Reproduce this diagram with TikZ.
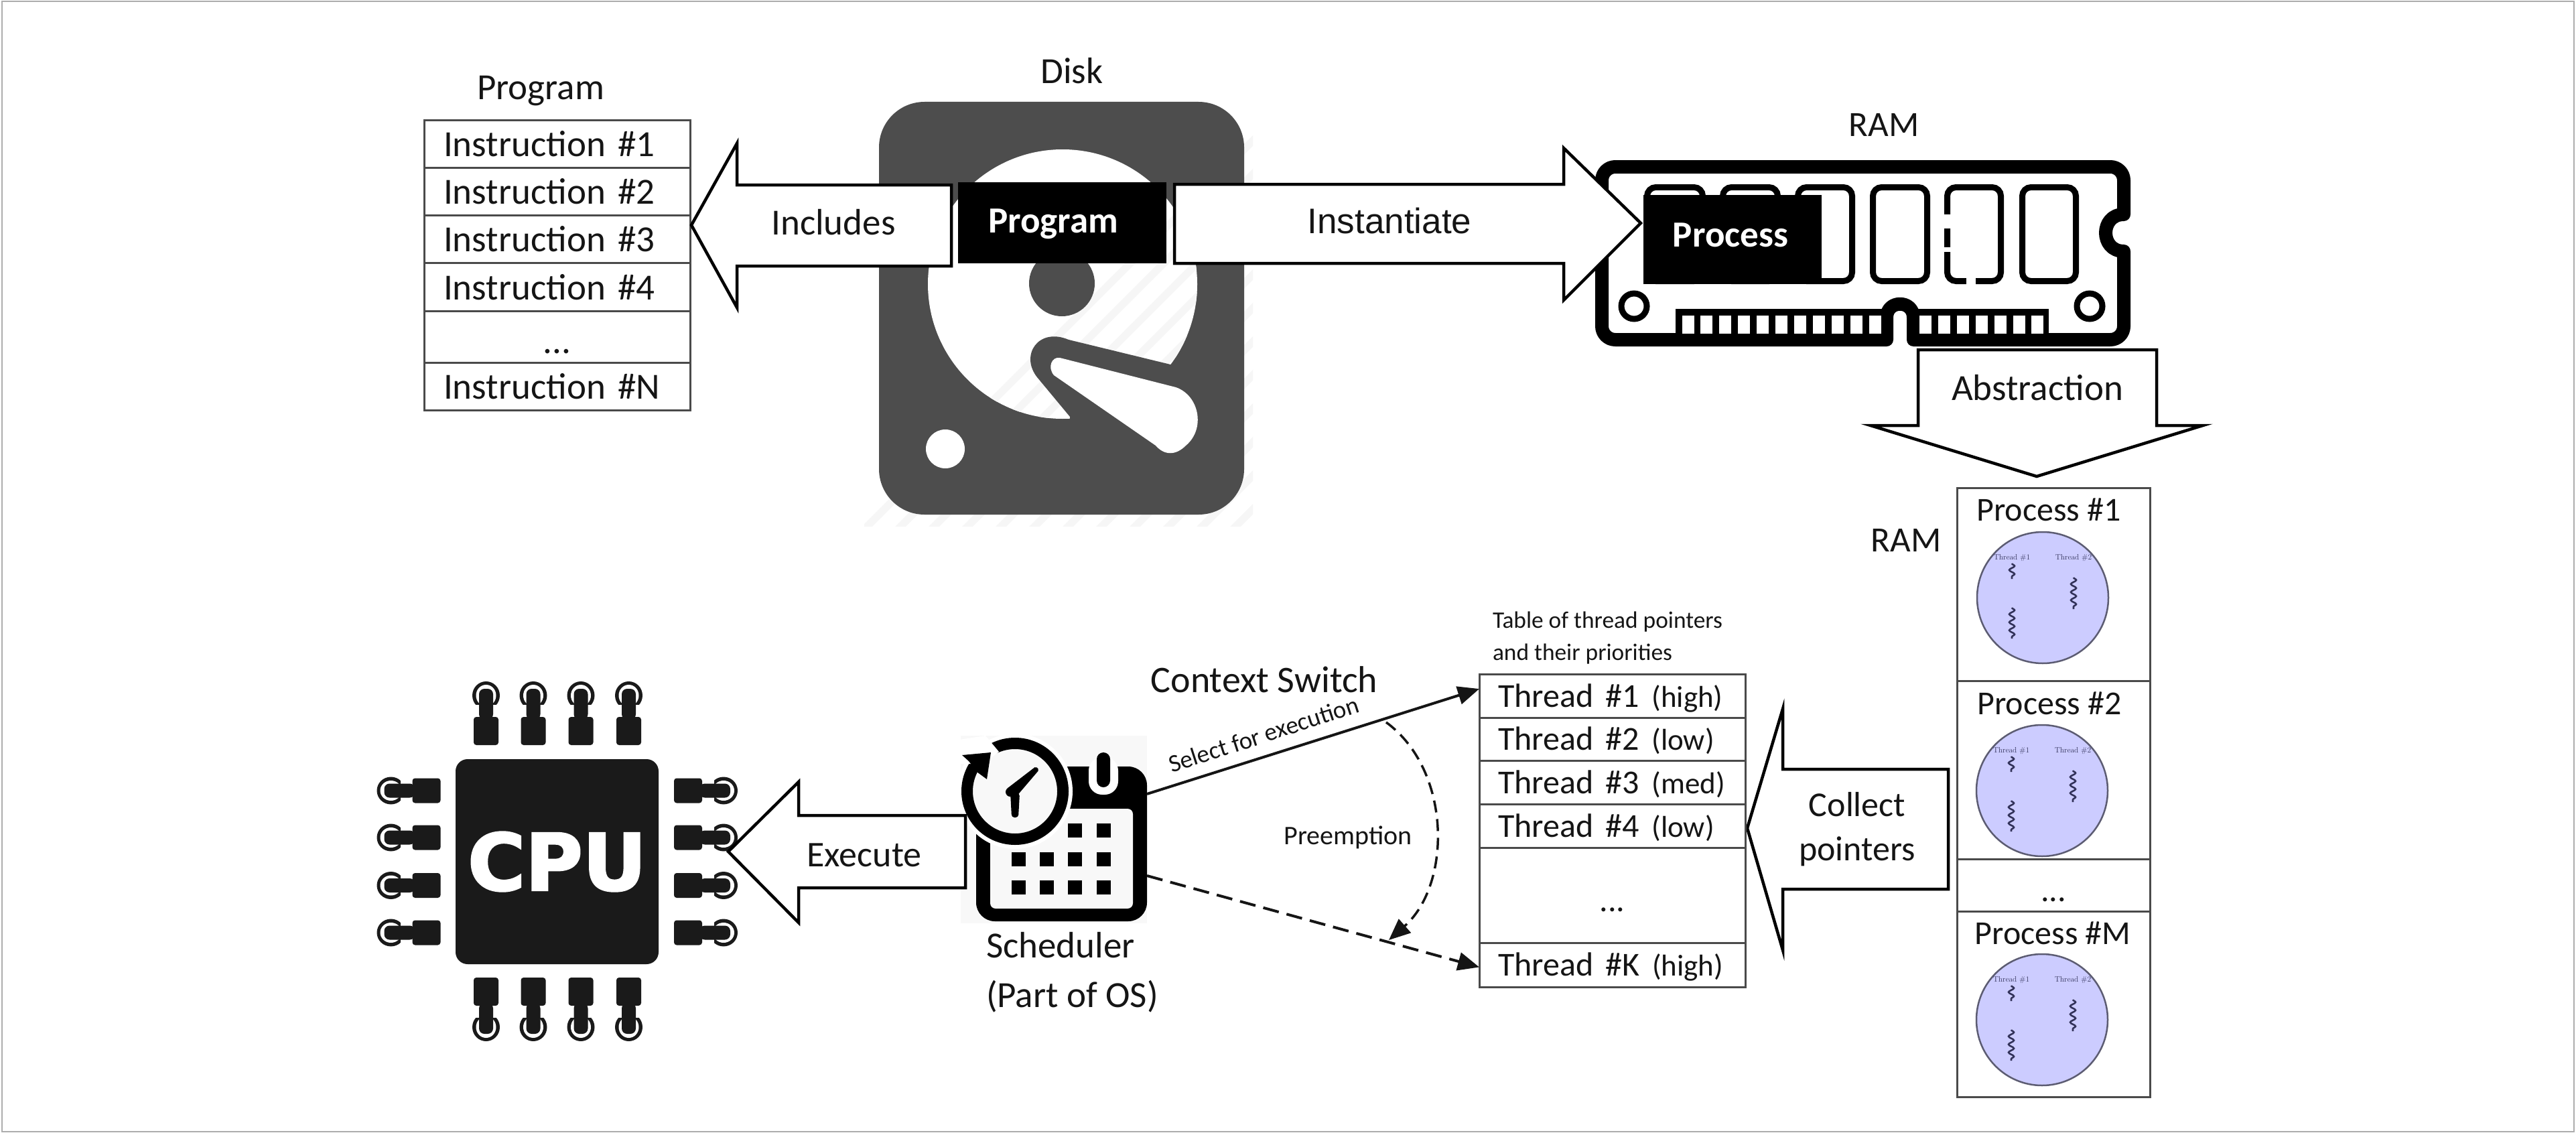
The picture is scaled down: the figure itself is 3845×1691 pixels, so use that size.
\documentclass[tikz,border=0pt]{standalone}
\usepackage{fontspec}
\usetikzlibrary{arrows.meta,decorations.pathmorphing}
\newfontfamily\calib{Carlito}
\newfontfamily\arialish{Liberation Sans}
\newfontfamily\dvbold{DejaVu Sans}[BoldFeatures={FakeBold=2.5}]
\newcommand\tsz[1]{\fontsize{#1}{#1}\selectfont}
\newcommand\instrut{\rule[-12pt]{0pt}{62pt}}
\newcommand\thrstrut{\rule[-12pt]{0pt}{57pt}}
\newcommand\dotstrut{\rule[-10pt]{0pt}{69pt}}
\newcommand\thr[2]{{\tsz{50}Thread \##1} {\tsz{45}(#2)}}
\newcommand\diskstripes{\foreach \k in {0,...,26} {\draw[hatchc,line width=11pt] ({1290+50*\k},790) -- ({1290+50*\k+660},130);}}
\definecolor{txtc}{HTML}{151515}
\definecolor{diskc}{HTML}{4D4D4D}
\definecolor{cpuc}{HTML}{1A1A1A}
\definecolor{linec}{HTML}{4A4A4A}
\definecolor{discf}{HTML}{CCCCFF}
\definecolor{discd}{HTML}{5C5C72}
\definecolor{squigc}{HTML}{33335A}
\definecolor{hatchc}{HTML}{F6F6F6}
\definecolor{checkc}{HTML}{F8F8F8}
\tikzset{
  lab/.style={font={\calib\tsz{#1}},text=txtc,inner sep=0pt,outer sep=0pt,anchor=base},
  labl/.style={font={\calib\tsz{#1}},text=txtc,inner sep=0pt,outer sep=0pt,anchor=base west},
  cell/.style={draw=linec,line width=3pt,inner ysep=0pt,outer sep=0pt,anchor=north west,font={\calib\tsz{55}},text=txtc},
  instr/.style={cell,inner xsep=29pt,text width=339pt,align=left,minimum height=#1},
  instrdots/.style={cell,inner xsep=29pt,text width=339pt,align=center,minimum height=#1},
  thrcell/.style={cell,inner xsep=28pt,text width=341pt,align=left,minimum height=#1},
  thrdots/.style={cell,inner xsep=28pt,text width=341pt,align=center,minimum height=#1,font={\calib\tsz{50}}},
  proccell/.style={cell,inner xsep=0pt,text width=288pt,align=center,minimum height=#1,font={\calib\tsz{50}}},
  blockarrow/.style={draw=black,fill=white,line width=4.5pt,line join=miter},
  blackbox/.style={fill=black,inner sep=0pt,outer sep=0pt},
  chip/.style={draw=black,line width=9pt,rounded corners=13pt},
  disc/.style={circle,draw=discd,fill=discf,line width=2.5pt,inner sep=0pt,outer sep=0pt,minimum size=196pt},
  tlab/.style={font=\tsz{11.5},text=squigc,inner sep=0pt},
  squig/.style={draw=squigc,line width=2.6pt,decorate,decoration={snake,segment length=12pt,amplitude=4pt}},
  conn/.style={draw=txtc,line width=4pt,-{Triangle[length=32pt,width=27pt]}},
  pics/procdisc/.style={code={
    \node[disc] (-d) at (0,0) {};
    \node[tlab] (-a) at (-46,-59) {Thread \#1};
    \node[tlab] (-b) at (46,-59) {Thread \#2};
    \draw[squig] (-46,-51) -- (-46,-28);
    \draw[squig] (46,-30) -- (46,17);
    \draw[squig] (-46,15) -- (-46,61);
  }},
  pics/cpupin/.style={code={
    \fill[cpuc] (0,-74) ellipse[x radius=20.5,y radius=21];
    \fill[white] (0,-74) ellipse[x radius=15,y radius=16];
    \fill[white] (-22,-60) rectangle (22,-50);
    \fill[cpuc,rounded corners=8pt] (-10.5,-84) rectangle (10.5,-38);
    \fill[cpuc,rounded corners=4pt] (-18.5,0) rectangle (18.5,-42);
  }}
}
\begin{document}
\begin{tikzpicture}[x=1pt,y=-1pt]
\useasboundingbox (0,0) rectangle (3845,1691);
\fill[white] (0,0) rectangle (3845,1691);
\draw[draw=black!32,line width=2.5pt] (3,2) rectangle (3842,1689);

% ---------- Program table
\node[lab=55] (programlabel) at (807,149) {Program};
\node[instr=71pt] (i1) at (633,179) {\instrut Instruction \#1};
\node[instr=71pt] (i2) at (633,250) {\instrut Instruction \#2};
\node[instr=71pt] (i3) at (633,321) {\instrut Instruction \#3};
\node[instr=72pt] (i4) at (633,392) {\instrut Instruction \#4};
\node[instrdots=77pt] (i5) at (633,464) {\dotstrut ...};
\node[instr=71pt] (i6) at (633,541) {\instrut Instruction \#N};

% ---------- Disk
\node[lab=55] (disklabel) at (1600,125) {Disk};
\begin{scope}
  \clip (1290,140) rectangle (1870,785);
  \diskstripes
\end{scope}
\fill[diskc,rounded corners=68pt] (1312,152) rectangle (1857,768);
\fill[white] (1586,424) circle[radius=201];
\begin{scope}
  \clip (1586,424) circle[radius=201];
  \diskstripes
\end{scope}
\fill[diskc] (1585,423) circle[radius=49];
\fill[diskc] (1597,642) -- (1597,622) -- (1548,563)
  .. controls (1522,530) and (1550,488) .. (1595,507)
  -- (1747,544) -- (1830,560) -- (1830,642) -- cycle;
\fill[white] (1582,534) -- (1755,578) .. controls (1790,590) and (1800,640) .. (1770,665)
  .. controls (1755,680) and (1738,680) .. (1725,665) -- (1573,560)
  .. controls (1563,548) and (1570,532) .. (1582,534) -- cycle;
\fill[white] (1411,670) circle[radius=29];

% ---------- Includes arrow and program box
\draw[blockarrow] (1032,336) -- (1100,214) -- (1100,276) -- (1420,276) -- (1420,397) -- (1100,397) -- (1100,459) -- cycle;
\node[lab=55] (includes) at (1244,350) {Includes};
\node[blackbox,minimum width=311pt,minimum height=121pt] (progbox) at (1585.5,332.5) {};
\node[lab=55,text=white,font={\calib\bfseries\tsz{55}}] (progtext) at (1572,347) {Program};

% ---------- RAM module
\node[lab=53] (ramlabel) at (2812,204) {RAM};
\draw[black,line width=20pt,line join=round] (3170,320) [rounded corners=20pt] -- (3170,249) -- (2391,249) -- (2391,507) [sharp corners] -- (2816,507) -- (2816,474)
  .. controls (2816,447) and (2856,447) .. (2856,474) -- (2856,507) [rounded corners=20pt] -- (3170,507) [sharp corners] -- (3170,375)
  .. controls (3134,375) and (3134,320) .. (3170,320) -- cycle;
\draw[chip] (2458.5,279.5) rectangle (2541.5,419.5);
\draw[chip] (2571.5,279.5) rectangle (2653.5,419.5);
\draw[chip] (2683.5,279.5) rectangle (2764.5,419.5);
\draw[chip] (2795.5,279.5) rectangle (2876.5,419.5);
\draw[chip] (2906.5,279.5) rectangle (2986.5,419.5);
\draw[chip] (3018.5,279.5) rectangle (3098.5,419.5);
\fill[white] (2899,320) rectangle (2913,341);
\fill[white] (2899,369) rectangle (2913,376);
\fill[white] (2935,412) rectangle (2949,428);
\draw[black,line width=9pt] (2439,457) circle[radius=19];
\draw[black,line width=9pt] (3119,457) circle[radius=19];
\fill[black] (2501,461) rectangle (2812,500);
\fill[black] (2860,461) rectangle (3058,500);
\foreach \k in {0,...,10} {\fill[white] ({2510.5+27.9*\k},471) rectangle ({2528.5+27.9*\k},497.5);}
\foreach \k in {0,...,6} {\fill[white] ({2865+27.9*\k},471) rectangle ({2883+27.9*\k},497.5);}

% ---------- Instantiate arrow and process box
\draw[blockarrow] (1753,275) -- (2334,275) -- (2334,221) -- (2449,333) -- (2334,448) -- (2334,393) -- (1753,393) -- cycle;
\node[lab=53,font={\arialish\tsz{53}}] (instantiate) at (2074,348) {Instantiate};
\node[blackbox,minimum width=266pt,minimum height=133pt] (procbox) at (2586,357.5) {};
\node[lab=55,text=white,font={\calib\bfseries\tsz{55}}] (proctext) at (2583,368) {Process};

% ---------- Abstraction arrow
\draw[blockarrow] (2863,522) -- (3219,522) -- (3219,635) -- (3288,635) -- (3040,711) -- (2792,635) -- (2863,635) -- cycle;
\node[lab=55] (abstraction) at (3041,597) {Abstraction};

% ---------- Process column
\node[lab=53] (ramlabeltwo) at (2845,823) {RAM};
\node[proccell=288pt] (p1) at (2921,728) {};
\node[proccell=266pt] (p2) at (2921,1016) {};
\node[proccell=78pt] (p3) at (2921,1282) {\dotstrut ...};
\node[proccell=277pt] (p4) at (2921,1360) {};
\node[lab=50] (p1t) at (3058,777) {Process \#1};
\node[lab=50] (p2t) at (3059,1066) {Process \#2};
\node[lab=50] (p4t) at (3064,1409) {Process \#M};
\pic (d1) at (3049,892) {procdisc};
\pic (d2) at (3048,1180) {procdisc};
\pic (d4) at (3048,1522) {procdisc};

% ---------- Collect pointers arrow
\draw[blockarrow] (2608,1236) -- (2661,1058) -- (2661,1148) -- (2908,1148) -- (2908,1327) -- (2661,1327) -- (2661,1418) -- cycle;
\node[lab=52] (collect) at (2772,1218) {Collect};
\node[lab=52] (pointers) at (2772,1284) {pointers};

% ---------- Thread table
\node[labl=35.4] (tabone) at (2228,937) {Table of thread pointers};
\node[labl=35.4] (tabtwo) at (2228,985) {and their priorities};
\node[thrcell=65pt] (t1) at (2208,1006) {\thrstrut\thr{1}{high}};
\node[thrcell=64pt] (t2) at (2208,1071) {\thrstrut\thr{2}{low}};
\node[thrcell=65pt] (t3) at (2208,1135) {\thrstrut\thr{3}{med}};
\node[thrcell=65.5pt] (t4) at (2208,1200) {\thrstrut\thr{4}{low}};
\node[thrdots=141.5pt] (t5) at (2208,1265.5) {\dotstrut ...};
\node[thrcell=66pt] (t6) at (2208,1407) {\thrstrut\thr{K}{high}};

% ---------- CPU
\foreach \x in {725.5,796,867,938.5} {
  \pic at (\x,1112) {cpupin};
  \pic[rotate=180] at (\x,1459) {cpupin};
}
\foreach \y in {1180,1250,1321.5,1392} {
  \pic[rotate=90] at (657.5,\y) {cpupin};
  \pic[rotate=-90] at (1006,\y) {cpupin};
}
\node[fill=cpuc,rounded corners=18pt,minimum width=303pt,minimum height=306pt,inner sep=0pt,text=white,font={\dvbold\bfseries\tsz{117}}] (cpu) at (831.5,1286) {CPU};

% ---------- Scheduler
\fill[checkc] (1434,1098) rectangle (1712,1378);
\fill[black,rounded corners=28pt] (1457,1144) rectangle (1712,1375);
\fill[checkc,rounded corners=8pt] (1478,1207) rectangle (1691,1356);
\fill[white,rounded corners=20pt] (1625,1130) -- (1625,1186) -- (1669,1186) -- (1669,1130) -- cycle;
\fill[black,rounded corners=10pt] (1637,1123) rectangle (1657,1175);
\fill[white] (1515,1181) circle[radius=86];
\draw[blockarrow] (1087,1271) -- (1192,1167) -- (1192,1217) -- (1441,1217) -- (1441,1325) -- (1192,1325) -- (1192,1377) -- cycle;
\node[lab=54] (execute) at (1290,1293) {Execute};
\foreach \x/\y in {1594/1229,1637/1229,1510/1272,1552/1272,1594/1272,1637/1272,1510/1314,1552/1314,1594/1314,1637/1314}
  {\fill[black] (\x,\y) rectangle ++(21,21);}
\fill[checkc] (1515,1181) circle[radius=64];
\draw[black,line width=17pt] (1515,1181) circle[radius=71.5];
\fill[white] (1471,1098) -- (1425,1105) -- (1430,1140) -- (1468,1140) -- (1491,1122) -- cycle;
\fill[black] (1436,1127) -- (1479,1123) -- (1473,1163) -- (1458,1152) -- (1446,1136) -- cycle;
\fill[black] (1508,1182) circle[radius=7];
\fill[black,rounded corners=2pt] (1503,1177) -- (1546,1144) -- (1551,1149) -- (1516,1190) -- cycle;
\fill[black,rounded corners=4pt] (1508,1182) -- (1522,1184) -- (1520,1220) -- (1510,1220) -- cycle;
\coordinate (schedtop) at (1712,1185);
\coordinate (schedlow) at (1712,1307);
\node[labl=55] (schedname) at (1472,1429) {Scheduler};
\node[labl=55] (schedpart) at (1472,1503) {(Part of OS)};

% ---------- Context switch connectors
\node[lab=56] (context) at (1887,1033) {Context Switch};
\draw[conn] (schedtop) -- (t1.177);
\draw[conn,dash pattern=on 24pt off 12pt] (schedlow) -- (t6.181);
\node[lab=37,anchor=center,rotate=18] (selectlab) at (1886,1096) {Select for execution};
\coordinate (preA) at (2069,1078);
\coordinate (preB) at (2073,1403);
\draw[draw=txtc,line width=3.5pt,dash pattern=on 18pt off 10pt,-{Triangle[length=32pt,width=27pt]}] (preA) .. controls (2167,1150) and (2167,1320) .. (preB);
\node[lab=40] (preemption) at (2012,1260) {Preemption};
\end{tikzpicture}
\end{document}
